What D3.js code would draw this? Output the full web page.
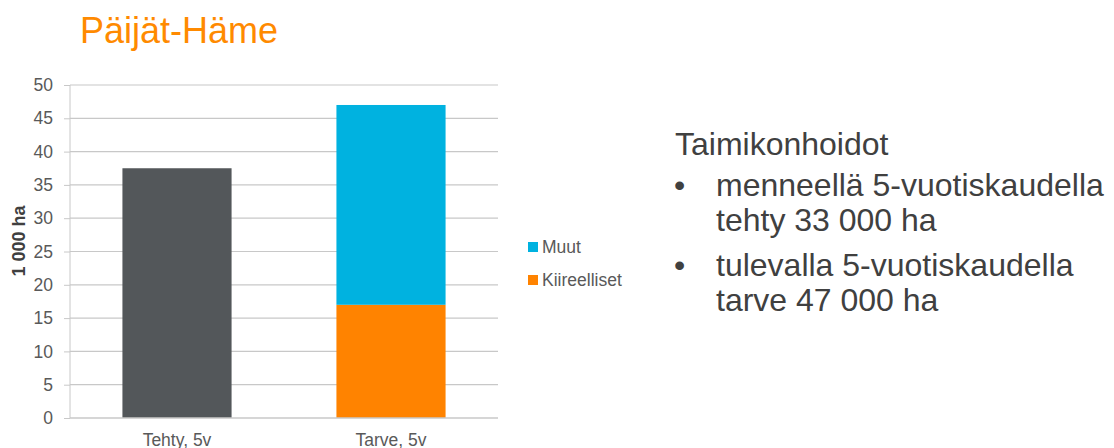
<!DOCTYPE html>
<html>
<head>
<meta charset="utf-8">
<script src="https://cdn.jsdelivr.net/npm/d3@7"></script>
<style>
  body { margin: 0; background: #fff; }
  svg { font-family: "Liberation Sans", Arial, sans-serif; }
</style>
</head>
<body>
<svg id="chart" width="1114" height="448"></svg>
<script>
var categories = ["Tehty, 5v", "Tarve, 5v"];
var seriesNames = ["Tehty", "Kiireelliset", "Muut"];
var tehtyValues = [37.5, 0];
var kiireellisetValues = [0, 17];
var muutValues = [0, 30];
var yTicks = [0, 5, 10, 15, 20, 25, 30, 35, 40, 45, 50];
var legendItems = ["Muut", "Kiireelliset"];
var textLines = [
  { bullet: false, text: "Taimikonhoidot" },
  { bullet: true, text: "menneellä 5-vuotiskaudella" },
  { bullet: false, text: "tehty 33 000 ha" },
  { bullet: true, text: "tulevalla 5-vuotiskaudella" },
  { bullet: false, text: "tarve 47 000 ha" }
];

var colors = { "Tehty": "#53575a", "Kiireelliset": "#ff8300", "Muut": "#00b2e0" };

var svg = d3.select("#chart"),
  margin = { top: 85, left: 70 },
  width = 428,
  height = 333,
  g = svg.append("g").attr("transform", "translate(" + margin.left + "," + margin.top + ")");

svg.append("text")
  .attr("x", 80)
  .attr("y", 43)
  .attr("fill", "#ff8a00")
  .style("font-size", "36px")
  .text("Päijät-Häme");

var x = d3.scaleBand().domain(categories).range([0, width]).paddingInner(0.49).paddingOuter(0.245);
var y = d3.scaleLinear().domain([0, 50]).range([height, 0]);

// gridlines
g.selectAll("line.grid")
  .data(yTicks.slice(1))
  .enter().append("line")
  .attr("class", "grid")
  .attr("x1", 0).attr("x2", width)
  .attr("y1", d => y(d)).attr("y2", d => y(d))
  .attr("stroke", "#c8c8c8").attr("stroke-width", 1.2);

var yAxis = g.append("g")
  .call(d3.axisLeft(y).tickValues(yTicks).tickSize(6).tickPadding(11));
yAxis.select(".domain").attr("stroke", "#c8c8c8").attr("d", "M0,0V" + height);
yAxis.selectAll(".tick line").attr("stroke", "#c8c8c8");
yAxis.selectAll(".tick text").attr("fill", "#595959").style("font-size", "17.5px");

var rows = categories.map((c, i) => ({
  cat: c, Tehty: tehtyValues[i], Kiireelliset: kiireellisetValues[i], Muut: muutValues[i]
}));
var stack = d3.stack().keys(seriesNames)(rows);

g.selectAll("g.layer")
  .data(stack)
  .enter().append("g")
  .attr("class", "layer")
  .attr("fill", d => colors[d.key])
  .selectAll("rect")
  .data(d => d.filter(p => p[1] > p[0]))
  .enter().append("rect")
  .attr("x", d => x(d.data.cat))
  .attr("width", x.bandwidth())
  .attr("y", d => y(d[1]))
  .attr("height", d => y(d[0]) - y(d[1]));

// x axis baseline
g.append("line")
  .attr("x1", 0).attr("x2", width)
  .attr("y1", height).attr("y2", height)
  .attr("stroke", "#c8c8c8").attr("stroke-width", 1.5);

g.selectAll("text.xlab")
  .data(categories)
  .enter().append("text")
  .attr("class", "xlab")
  .attr("x", d => x(d) + x.bandwidth() / 2)
  .attr("y", height + 28)
  .attr("text-anchor", "middle")
  .attr("fill", "#595959")
  .style("font-size", "17.5px")
  .text(d => d);

svg.append("text")
  .attr("transform", "translate(25,241) rotate(-90)")
  .attr("text-anchor", "middle")
  .attr("fill", "#404040")
  .style("font-size", "18px")
  .style("font-weight", "bold")
  .text("1 000 ha");

// legend
var legend = svg.append("g").attr("transform", "translate(528,247)");
legendItems.forEach(function(name, i) {
  var row = legend.append("g").attr("transform", "translate(0," + i * 33 + ")");
  row.append("rect").attr("x", 0).attr("y", -5).attr("width", 10).attr("height", 10).attr("fill", colors[name]);
  row.append("text").attr("x", 14).attr("y", 6).attr("fill", "#595959").style("font-size", "17.5px").text(name);
});

// side text
var baselines = [155, 196, 231, 276, 311];
var side = svg.append("g");
textLines.forEach(function(l, i) {
  if (l.bullet) {
    side.append("text").attr("x", 674).attr("y", baselines[i]).attr("fill", "#404040")
      .style("font-size", "32px").text("•");
  }
  side.append("text")
    .attr("x", i === 0 ? 675 : 716)
    .attr("y", baselines[i])
    .attr("fill", "#404040")
    .style("font-size", "32px")
    .text(l.text);
});
</script>
</body>
</html>
